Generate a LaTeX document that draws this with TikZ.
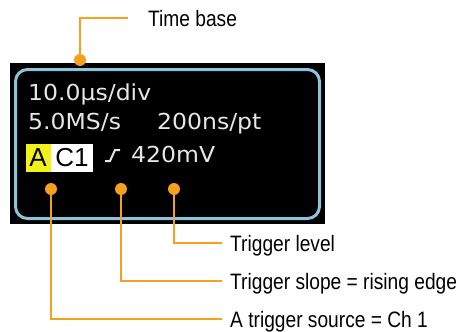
\documentclass[tikz,border=0pt]{standalone}
\usepackage{fontspec}
\usetikzlibrary{backgrounds}
\setmainfont{Liberation Sans}
\newfontfamily\labfont[FakeStretch=0.86]{Liberation Sans}
\newfontfamily\dispfont[FakeStretch=1.07]{DejaVu Sans}
\definecolor{lead}{HTML}{F5A01E}
\definecolor{bezel}{HTML}{8EC3DE}
\definecolor{scrtxt}{HTML}{E6E6E6}
\definecolor{trigy}{HTML}{F2F21A}
\pgfdeclarelayer{leaders}
\pgfsetlayers{background,leaders,main}
\begin{document}
\begin{tikzpicture}[x=1pt,y=-1pt,
  leader/.style={draw=lead,line width=2.6pt},
  dotmark/.style={circle,fill=lead,inner sep=0pt,minimum size=12pt},
  label/.style={font=\labfont\fontsize{22.3}{24}\selectfont,anchor=west,inner sep=0pt,text height=16pt,text depth=0pt},
  scr/.style={font=\dispfont\fontsize{22}{24}\selectfont,text=scrtxt,anchor=base west,inner sep=0pt},
  tag/.style={font=\fontsize{26}{28}\selectfont,text=black,inner sep=0pt,minimum height=28pt}]
\useasboundingbox (0,0) rectangle (461,332);
% display
\begin{pgfonlayer}{background}
\fill[black] (10,63) rectangle (325,224);
\draw[bezel,line width=3pt,rounded corners=12pt] (15.5,69.5) rectangle (319.5,218.5);
\end{pgfonlayer}
\node[scr] (tbtxt) at (28,100) {10.0µs/div};
\node[scr] (srtxt) at (28,129) {5.0MS/s};
\node[scr] (pttxt) at (157,129) {200ns/pt};
\node[tag,fill=trigy,minimum width=25pt] (atag) at (38,158) {A};
\node[tag,fill=white,minimum width=42pt] (ctag) at (72,158) {C1};
\draw[scrtxt,line width=2pt] (105,161) -- (110,161) -- (115,150) -- (120,150);
\node[scr] (lvtxt) at (131,162) {420mV};
% dots
\node[dotmark] (dtb) at (80,60) {};
\node[dotmark] (dsrc) at (51,189) {};
\node[dotmark] (dslp) at (121,189) {};
\node[dotmark] (dlvl) at (174,189) {};
% labels
\node[label] (ltb) at (148,18) {Time base};
\node[label] (llvl) at (230,243) {Trigger level};
\node[label] (lslp) at (230,281) {Trigger slope = rising edge};
\node[label] (lsrc) at (230,319) {A trigger source = Ch 1};
% leaders
\begin{pgfonlayer}{leaders}
\draw[leader] (dtb.center) |- ([xshift=-20pt]ltb.west);
\draw[leader] (dlvl.center) |- ([xshift=-8pt]llvl.west);
\draw[leader] (dslp.center) |- ([xshift=-8pt]lslp.west);
\draw[leader] (dsrc.center) |- ([xshift=-8pt]lsrc.west);
\end{pgfonlayer}
\end{tikzpicture}
\end{document}
